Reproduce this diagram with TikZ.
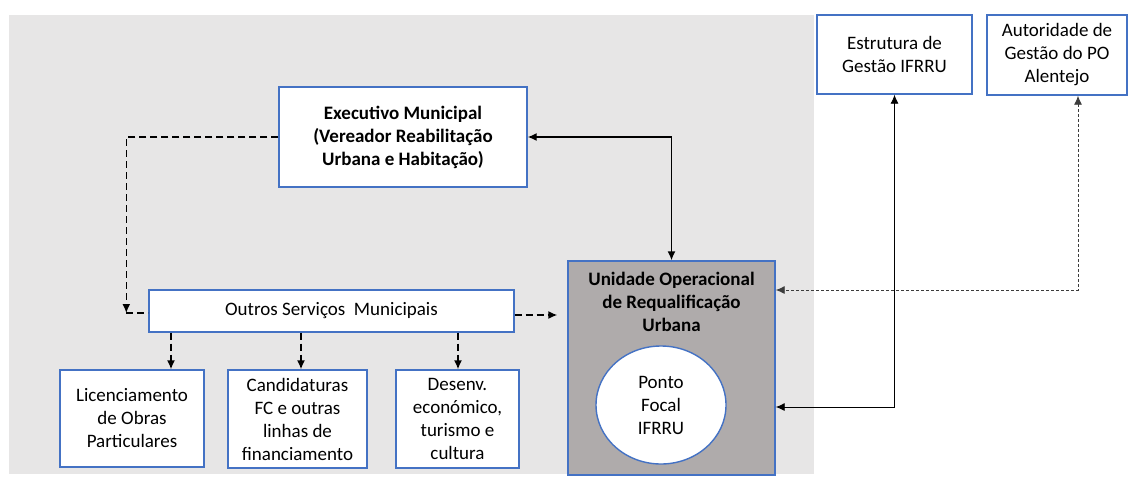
\documentclass[tikz,border=0pt]{standalone}
\usepackage{fontspec}
\setmainfont{Carlito}
\usepackage{tikz}
\usetikzlibrary{arrows.meta,shapes.geometric,positioning}
\definecolor{boxblue}{RGB}{68,114,196}
\definecolor{bggray}{RGB}{231,230,230}
\definecolor{unitgray}{RGB}{175,171,171}
\definecolor{dotgray}{RGB}{60,60,60}

\begin{document}
\begin{tikzpicture}[x=1pt,y=-1pt,>={Latex[length=9pt,width=8pt]},
  font=\fontsize{19}{23}\selectfont,
  main node/.style={rectangle,draw=boxblue,fill=white,line width=1.4pt,align=center,inner sep=1pt},
  bold node/.style={main node,font=\fontsize{19}{23}\selectfont\bfseries},
  unit node/.style={rectangle,draw=boxblue,fill=unitgray,line width=1.4pt},
  focal node/.style={ellipse,draw=boxblue,fill=white,line width=1.4pt,align=center,inner sep=0pt},
  dash link/.style={line width=1.5pt,dash pattern=on 7pt off 4pt},
  solid link/.style={line width=1.4pt},
  thin link/.style={line width=0.9pt},
  dot link/.style={line width=0.9pt,draw=dotgray,dash pattern=on 3pt off 2pt}]
  \useasboundingbox (0,0) rectangle (1129,477);
  \fill[bggray] (9,15) rectangle (814,474);

  \node[bold node,minimum width=248pt,minimum height=100pt] (exec) at (403,137)
    {Executivo Municipal\\(Vereador Reabilitação\\Urbana e Habitação)};
  \node[main node,minimum width=155pt,minimum height=79pt] (estr) at (894.5,54.5)
    {Estrutura de\\Gestão IFRRU};
  \node[main node,minimum width=140pt,minimum height=80pt] (aut) at (1057,55)
    {Autoridade de\\Gestão do PO\\Alentejo};
  \node[main node,minimum width=365pt,minimum height=42pt] (outros) at (331.5,311)
    {Outros Serviços\ \ Municipais};
  \node[main node,minimum width=144pt,minimum height=97pt] (lic) at (132,418.5)
    {Licenciamento\\de Obras\\Particulares};
  \node[main node,minimum width=139pt,minimum height=98pt] (cand) at (297.5,419)
    {Candidaturas\\FC e outras\\linhas de\\financiamento};
  \node[main node,minimum width=123pt,minimum height=98pt] (des) at (457.5,419)
    {Desenv.\\económico,\\turismo e\\cultura};
  \node[unit node,minimum width=207pt,minimum height=214pt] (uoru) at (671.5,368) {};
  \node[align=center,font=\fontsize{19}{23}\selectfont\bfseries,below=8pt of uoru.north] (uorutitle)
    {Unidade Operacional\\de Requalificação\\Urbana};
  \node[focal node,minimum width=130pt,minimum height=118pt] (focal) at (661,405)
    {Ponto\\Focal\\IFRRU};

  \coordinate (bend) at ([xshift=-22pt,yshift=-2pt]outros.west);
  \coordinate (outrosout) at ([yshift=-4pt]outros.east);

  % executivo links
  \draw[solid link,<->] (exec.east) -| (uoru.north);
  \draw[dash link,->] (exec.west) -| (bend);
  \draw[dash link] (bend) -- (bend -| outros.west);

  % outros servicos
  \foreach \n/\dx in {lic/39,cand/3.5,des/0.5}
    \draw[dash link,->] ([xshift=\dx pt]\n.north |- outros.south) -- ([xshift=\dx pt]\n.north);
  \draw[dash link,->,shorten >=10pt] (outrosout) -- (outrosout -| uoru.west);

  % IFRRU and PO
  \draw[thin link,<->] (estr.south) |- ([yshift=-39pt]uoru.east);
  \draw[dot link,<->] ([xshift=21pt]aut.south) |- ([yshift=78pt]uoru.east);
\end{tikzpicture}
\end{document}
